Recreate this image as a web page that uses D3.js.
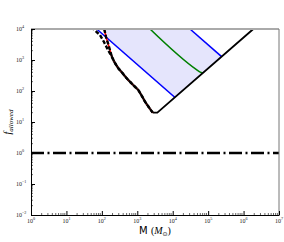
<!DOCTYPE html>
<html>
<head>
<meta charset="utf-8">
<script src="https://cdn.jsdelivr.net/npm/d3@7"></script>
<style>
  body { margin: 0; background: #fff; }
  svg { display: block; }
  .tick-label { font-family: "Liberation Serif", "DejaVu Serif", serif; font-size: 6px; fill: #222; }
</style>
</head>
<body>
<svg id="chart"></svg>
<script>
// curve A: red solid + black dashed (M, f)
const curveAM = [117, 131, 154, 175, 193, 229, 291, 380, 502, 724, 1067, 1318, 1652, 2138, 2723];
const curveAF = [1e4, 5520, 3050, 1810, 1250, 832, 540, 380, 257, 166, 108, 72.4, 45.2, 29.5, 20];
// curve B: black dashed, joins curve A
const curveBM = [58, 88.5, 115, 149, 193];
const curveBF = [1e4, 6400, 3810, 2100, 1250];
// black solid boundary
const edgeM = [2723, 3673, 1.884e6];
const edgeF = [20, 20, 1e4];
// blue and green lines
const blueLowM = [71.4, 11600];
const blueLowF = [1e4, 61.7];
const blueHighM = [30760, 239900];
const blueHighF = [1e4, 1276];
const greenM = [2291, 47860, 56230, 63100, 70790];
const greenF = [1e4, 479, 422, 394, 376];
// horizontal dash-dot line
const flatM = [1, 1e7];
const flatF = [1, 1];
// ticks
const xTickExp = [0, 1, 2, 3, 4, 5, 6, 7];
const yTickExp = [-2, -1, 0, 1, 2, 3, 4];

const width = 284, height = 242;
const padL = 31, padR = 279, padT = 29, padB = 215;

const svg = d3.select("#chart").attr("width", width).attr("height", height);

const x = d3.scaleLog().domain([1, 1e7]).range([padL, padR]);
const y = d3.scaleLog().domain([1e-2, 1e4]).range([padB, padT]);

const zip = (ms, fs) => ms.map((m, i) => [m, fs[i]]);
const line = d3.line().x(d => x(d[0])).y(d => y(d[1]));

// shaded band between the blue lines, right of curve A
const clip = zip(curveAM, curveAF).concat([[1e7, 1e-2], [1e7, 1e4]]);
svg.append("clipPath").attr("id", "rightOfA")
  .append("path").attr("d", line(clip) + "Z");

const band = zip(blueLowM, blueLowF)
  .concat(zip(blueHighM, blueHighF).reverse());
svg.append("path")
  .attr("d", line(band) + "Z")
  .attr("fill", "#e5e5fc")
  .attr("clip-path", "url(#rightOfA)");

// lines
svg.append("path").attr("d", line(zip(blueLowM, blueLowF)))
  .attr("fill", "none").attr("stroke", "#0000ff").attr("stroke-width", 1.6);
svg.append("path").attr("d", line(zip(blueHighM, blueHighF)))
  .attr("fill", "none").attr("stroke", "#0000ff").attr("stroke-width", 1.6);
svg.append("path").attr("d", line.curve(d3.curveMonotoneX)(zip(greenM, greenF)))
  .attr("fill", "none").attr("stroke", "#008000").attr("stroke-width", 1.6);
line.curve(d3.curveLinear);

svg.append("path").attr("d", line(zip(edgeM, edgeF)))
  .attr("fill", "none").attr("stroke", "#000").attr("stroke-width", 1.8);
svg.append("path").attr("d", line(zip(curveAM, curveAF)))
  .attr("fill", "none").attr("stroke", "#ff0000").attr("stroke-width", 1.6);
svg.append("path").attr("d", line(zip(curveAM, curveAF)))
  .attr("fill", "none").attr("stroke", "#000").attr("stroke-width", 2.4)
  .attr("stroke-dasharray", "4,2");
svg.append("path").attr("d", line(zip(curveBM, curveBF).concat(zip(curveAM, curveAF).slice(5))))
  .attr("fill", "none").attr("stroke", "#000").attr("stroke-width", 2.4)
  .attr("stroke-dasharray", "4,2").attr("stroke-dashoffset", 3);

svg.append("path").attr("d", line(zip(flatM, flatF)))
  .attr("fill", "none").attr("stroke", "#000").attr("stroke-width", 2.4)
  .attr("stroke-dasharray", "13,3.5,2,3.5");

// frame
svg.append("line").attr("x1", padL).attr("x2", padR).attr("y1", padT).attr("y2", padT)
  .attr("stroke", "#aaa").attr("stroke-width", 2);
svg.append("line").attr("x1", padR).attr("x2", padR).attr("y1", padT).attr("y2", padB)
  .attr("stroke", "#777").attr("stroke-width", 1);

// axes with inward ticks
const minorX = [], minorY = [];
xTickExp.slice(0, -1).forEach(e => { for (let k = 2; k < 10; k++) minorX.push(k * Math.pow(10, e)); });
yTickExp.slice(0, -1).forEach(e => { for (let k = 2; k < 10; k++) minorY.push(k * Math.pow(10, e)); });

const xAxis = svg.append("g").attr("transform", "translate(0," + padB + ")");
xAxis.call(d3.axisBottom(x).tickValues(xTickExp.map(e => Math.pow(10, e))).tickSize(-4).tickSizeOuter(0).tickFormat(""));
xAxis.append("g").call(g => g.selectAll("line").data(minorX).enter().append("line")
  .attr("x1", d => x(d)).attr("x2", d => x(d)).attr("y1", 0).attr("y2", -2)
  .attr("stroke", "#000").attr("stroke-width", 0.6));

const yAxis = svg.append("g").attr("transform", "translate(" + padL + ",0)");
yAxis.call(d3.axisLeft(y).tickValues(yTickExp.map(e => Math.pow(10, e))).tickSize(-4).tickSizeOuter(0).tickFormat(""));
yAxis.append("g").call(g => g.selectAll("line").data(minorY).enter().append("line")
  .attr("y1", d => y(d)).attr("y2", d => y(d)).attr("x1", 0).attr("x2", 2)
  .attr("stroke", "#000").attr("stroke-width", 0.6));

svg.selectAll(".domain").attr("stroke", "#000").attr("stroke-width", 1);

// tick labels as 10^n
function powLabel(sel) {
  sel.append("tspan").text("10");
  sel.append("tspan").attr("dy", -3).attr("font-size", "4.2px").text(d => d < 0 ? "\u2212" + (-d) : d);
}
svg.append("g").selectAll("text").data(xTickExp).enter().append("text")
  .attr("class", "tick-label")
  .attr("x", d => x(Math.pow(10, d)) - 4).attr("y", padB + 8)
  .call(powLabel);
svg.append("g").selectAll("text").data(yTickExp).enter().append("text")
  .attr("class", "tick-label")
  .attr("x", padL - 15).attr("y", d => y(Math.pow(10, d)) + 2)
  .call(powLabel);

// axis titles
const yt = svg.append("text")
  .attr("transform", "translate(11," + ((padT + padB) / 2) + ") rotate(-90)")
  .attr("text-anchor", "middle")
  .attr("font-family", "Liberation Serif, serif").attr("font-style", "italic").attr("font-size", "10px");
yt.append("tspan").text("f");
yt.append("tspan").attr("dy", 2).attr("font-size", "7px").text("allowed");

const xt = svg.append("text")
  .attr("x", (padL + padR) / 2).attr("y", 234)
  .attr("text-anchor", "middle").attr("font-size", "10px")
  .attr("font-family", "DejaVu Sans, sans-serif");
xt.append("tspan").text("M ");
xt.append("tspan").attr("font-family", "Liberation Serif, serif").text("(");
xt.append("tspan").attr("font-family", "Liberation Serif, serif").attr("font-style", "italic").text("M");
xt.append("tspan").attr("font-family", "DejaVu Sans, sans-serif").attr("font-size", "6px").attr("dy", 2).text("\u2299");
xt.append("tspan").attr("font-family", "Liberation Serif, serif").attr("dy", -2).text(")");
</script>
</body>
</html>
